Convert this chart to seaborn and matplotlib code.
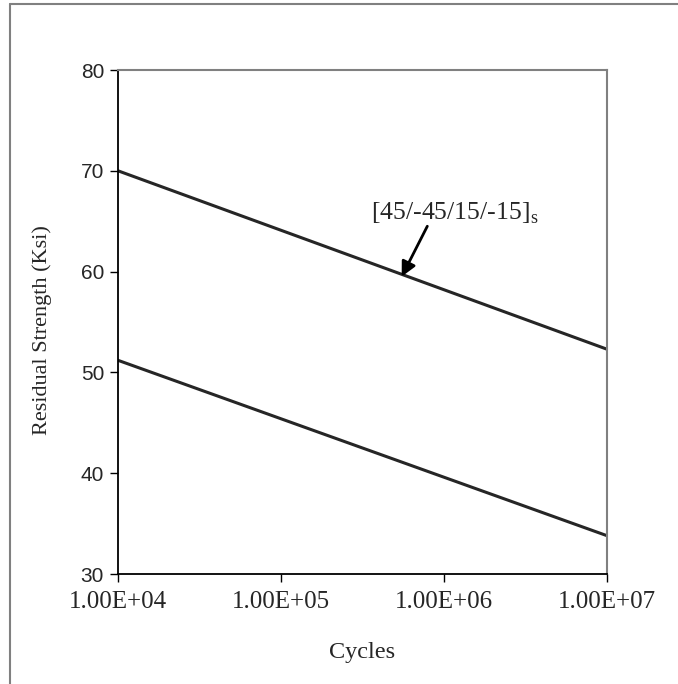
import numpy as np
import pandas as pd
import matplotlib
matplotlib.use("Agg")
import matplotlib.pyplot as plt
from matplotlib.lines import Line2D
import seaborn as sns

cycles = [1e4, 1e7]
upper_strength = [70.0, 52.3]
lower_strength = [51.2, 33.8]
x_ticks = [1e4, 1e5, 1e6, 1e7]
x_tick_labels = ["1.00E+04", "1.00E+05", "1.00E+06", "1.00E+07"]
y_ticks = [30, 40, 50, 60, 70, 80]
annotation_text = "[45/-45/15/-15]$_\\mathregular{s}$"

df = pd.DataFrame({
    "Cycles": cycles + cycles,
    "Strength": upper_strength + lower_strength,
    "series": ["upper"] * 2 + ["lower"] * 2,
})

sns.set_style("white")
fig = plt.figure(figsize=(6.78, 6.84), dpi=100)
W, H = 678, 684
left, right, top, bottom = 118, 607, 70, 574
ax = fig.add_axes([left / W, 1 - bottom / H, (right - left) / W, (bottom - top) / H])

sns.lineplot(data=df, x="Cycles", y="Strength", units="series", estimator=None,
             color="#262626", linewidth=2.2, ax=ax, legend=False)
ax.set_xscale("log")
ax.set_xlim(1e4, 1e7)
ax.set_ylim(30, 80)
ax.set_xticks(x_ticks)
ax.set_xticklabels(x_tick_labels, fontfamily="Liberation Serif", fontsize=18)
ax.minorticks_off()
ax.set_yticks(y_ticks)
ax.set_yticklabels([str(v) for v in y_ticks], fontfamily="Liberation Sans", fontsize=15)
ax.tick_params(axis="both", direction="out", length=6, width=1, color="black", pad=4,
               bottom=True, left=True)
ax.tick_params(axis="x", pad=6)
ax.set_xlabel("Cycles", fontfamily="Liberation Serif", fontsize=17.5)
ax.set_ylabel("Residual Strength (Ksi)", fontfamily="Liberation Serif", fontsize=16)
ax.xaxis.set_label_coords((left + right) / 2 / W, 1 - 642 / H, transform=fig.transFigure)
ax.yaxis.set_label_coords(52 / W, 1 - 330 / H, transform=fig.transFigure)

for s in ["left", "bottom"]:
    ax.spines[s].set_color("black")
    ax.spines[s].set_linewidth(1.3)
for s in ["top", "right"]:
    ax.spines[s].set_color("#808080")
    ax.spines[s].set_linewidth(1.5)
    ax.spines[s].set_visible(True)

ax.text(1.17e6, 65.2, annotation_text, fontfamily="Liberation Serif", fontsize=18.5,
        ha="center", va="baseline")
ax.annotate("", xy=(5.5e5, 59.5), xytext=(7.9e5, 64.5),
            arrowprops=dict(arrowstyle="-|>", color="black", lw=2, mutation_scale=22,
                            shrinkA=0, shrinkB=0))

# outer frame (left and top edges)
fig.add_artist(Line2D([10 / W, 10 / W], [0, 1 - 4 / H], transform=fig.transFigure,
                      color="#808080", linewidth=1.5))
fig.add_artist(Line2D([10 / W, 1], [1 - 4 / H, 1 - 4 / H], transform=fig.transFigure,
                      color="#808080", linewidth=1.5))

fig.savefig("out.png", dpi=100, facecolor="white")
